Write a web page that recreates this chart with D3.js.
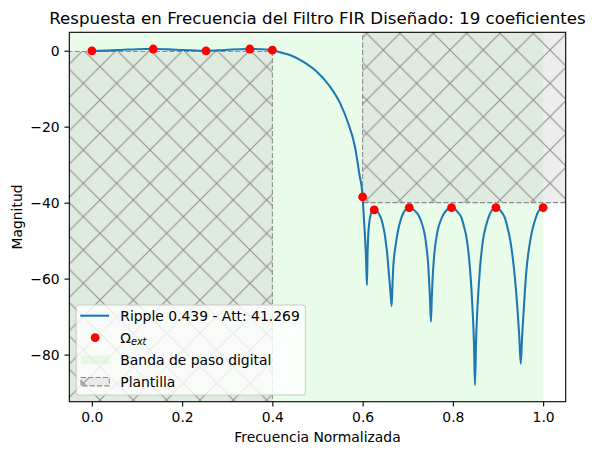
<!DOCTYPE html>
<html>
<head>
<meta charset="utf-8">
<script src="https://cdn.jsdelivr.net/npm/d3@7"></script>
<style>
  body { margin: 0; background: #fff; }
  svg { display: block; font-family: "DejaVu Sans", sans-serif; }
</style>
</head>
<body>
<svg id="chart" width="594" height="455"></svg>
<script>
// frequency response (normalized freq, dB)
const freq = [
  0.000, 0.030, 0.070, 0.100, 0.136, 0.170, 0.200, 0.230, 0.253, 0.280,
  0.310, 0.350, 0.375, 0.400, 0.417, 0.439, 0.468, 0.498, 0.528, 0.550,
  0.568, 0.583, 0.5925, 0.600, 0.6025, 0.6050, 0.6075, 0.6096,
  0.6110, 0.6125, 0.6145, 0.6170, 0.6210, 0.6257, 0.6310, 0.6360, 0.6410, 0.6457,
  0.6490, 0.6517, 0.6545, 0.6568, 0.6595, 0.6620, 0.6643,
  0.6665, 0.6679, 0.6705, 0.6738, 0.6770, 0.6805, 0.6850, 0.6900, 0.6965, 0.7033,
  0.7100, 0.7170, 0.7233, 0.7290, 0.7343, 0.7385, 0.7418, 0.7448, 0.7470, 0.7492, 0.7514,
  0.7533, 0.7551, 0.7575, 0.7602, 0.7637, 0.7676, 0.7730, 0.7786, 0.7845, 0.7900, 0.7970,
  0.8035, 0.8100, 0.8194, 0.8250, 0.8305, 0.8345, 0.8378, 0.8410, 0.8438, 0.8465, 0.8489,
  0.8515, 0.8540, 0.8570, 0.8600, 0.8635, 0.8673, 0.8725, 0.8784, 0.8840, 0.8895, 0.8954,
  0.9015, 0.9080, 0.9154, 0.9210, 0.9264, 0.9310, 0.9353, 0.9395, 0.9435, 0.9470, 0.9504,
  0.9535, 0.9568, 0.9600, 0.9634, 0.9675, 0.9723, 0.9775, 0.9834, 0.9885, 0.9945, 1.000
];
const magDb = [
  -0.05, 0.02, 0.25, 0.40, 0.44, 0.35, 0.18, 0.03, -0.05, 0.10,
  0.32, 0.44, 0.38, 0.15, -0.42, -1.13, -2.9, -5.5, -9.5, -13.8,
  -19.1, -25.3, -32.3, -38.5, -43.5, -48.5, -54.5, -61.7,
  -53.0, -48.5, -45.5, -43.6, -42.3, -41.9, -42.1, -42.9, -44.2, -46.3,
  -48.3, -50.7, -53.5, -56.8, -60.5, -64.0, -67.2,
  -60.5, -56.8, -53.5, -50.7, -48.3, -46.3, -44.3, -42.8, -41.7, -41.3,
  -41.6, -42.3, -43.2, -44.7, -46.7, -49.0, -52.0, -55.5, -59.9, -65.0, -71.3,
  -65.0, -59.9, -55.5, -52.0, -49.0, -46.7, -44.7, -43.2, -42.2, -41.6, -41.3,
  -41.6, -42.4, -44.1, -46.5, -49.4, -53.0, -57.3, -62.5, -68.7, -76.0, -88.0,
  -76.0, -68.7, -62.5, -57.3, -53.0, -49.4, -46.5, -44.1, -42.5, -41.6, -41.3,
  -41.6, -42.5, -44.1, -46.5, -49.4, -53.0, -57.3, -62.5, -68.7, -75.0, -82.4,
  -75.0, -68.7, -62.5, -57.3, -53.0, -49.4, -46.5, -44.1, -42.5, -41.6, -41.3
];

// extremal frequencies (red dots)
const extFreq = [0.0, 0.136, 0.253, 0.350, 0.400, 0.600, 0.6257, 0.7033, 0.797, 0.8954, 1.0];
const extMag = [-0.05, 0.44, -0.05, 0.44, 0.15, -38.5, -41.9, -41.3, -41.3, -41.3, -41.3];

// template (plantilla) and digital passband span
const passTplX = [-0.2, 0.4];
const passTplY = [-120, -0.2];
const stopTplX = [0.6, 1.3];
const stopTplY = [-40, 20];
const bandX = [-0.2, 1.0];

const xTicks = [0, 0.2, 0.4, 0.6, 0.8, 1.0];
const yTicks = [0, -20, -40, -60, -80];
const legendLabels = ["Ripple 0.439 - Att: 41.269", "Ω", "Banda de paso digital", "Plantilla"];

const W = 594, H = 455;
const margin = {top: 32.3, right: 28.3, bottom: 53.3, left: 69.3};
const iw = W - margin.left - margin.right;
const ih = H - margin.top - margin.bottom;

const svg = d3.select("#chart");
const x = d3.scaleLinear().domain([-0.05, 1.05]).range([0, iw]);
const y = d3.scaleLinear().domain([-92.4, 4.84]).range([ih, 0]);

const defs = svg.append("defs");
defs.append("clipPath").attr("id", "plotclip")
  .append("rect").attr("width", iw).attr("height", ih);

// hatch tiles aligned to the page, like matplotlib does
function hatch(id, ox, oy) {
  const p = defs.append("pattern")
    .attr("id", id)
    .attr("patternUnits", "userSpaceOnUse")
    .attr("x", ox).attr("y", oy)
    .attr("width", 33.33).attr("height", 33.33);
  p.append("path")
    .attr("d", "M-2,-2L35.33,35.33M-2,35.33L35.33,-2")
    .attr("stroke", "#808080").attr("stroke-opacity", 0.85)
    .attr("stroke-width", 1.1).attr("fill", "none");
}
hatch("hatchPlot", -margin.left, -margin.top);
hatch("hatchPage", 0, 0);

const g = svg.append("g").attr("transform", `translate(${margin.left},${margin.top})`);
const plot = g.append("g").attr("clip-path", "url(#plotclip)");

// digital passband
plot.append("rect")
  .attr("x", x(bandX[0])).attr("y", 0)
  .attr("width", x(bandX[1]) - x(bandX[0])).attr("height", ih)
  .attr("fill", "#90ee90").attr("fill-opacity", 0.2);

// templates
[[passTplX, passTplY], [stopTplX, stopTplY]].forEach(([tx, ty]) => {
  const r = {x: x(tx[0]), y: y(ty[1]), w: x(tx[1]) - x(tx[0]), h: y(ty[0]) - y(ty[1])};
  plot.append("rect").attr("x", r.x).attr("y", r.y).attr("width", r.w).attr("height", r.h)
    .attr("fill", "#d3d3d3").attr("fill-opacity", 0.4);
  plot.append("rect").attr("x", r.x).attr("y", r.y).attr("width", r.w).attr("height", r.h)
    .attr("fill", "url(#hatchPlot)")
    .attr("stroke", "#8c8c8c").attr("stroke-width", 1.1)
    .attr("stroke-dasharray", "5.1,2.2");
});

// response curve
const line = d3.line().x((d, i) => x(freq[i])).y(d => y(d)).curve(d3.curveMonotoneX);
plot.append("path")
  .datum(magDb)
  .attr("d", line)
  .attr("fill", "none")
  .attr("stroke", "#1f77b4")
  .attr("stroke-width", 2.08)
  .attr("stroke-linejoin", "round");

plot.selectAll("circle.ext")
  .data(extFreq)
  .join("circle")
  .attr("class", "ext")
  .attr("cx", d => x(d))
  .attr("cy", (d, i) => y(extMag[i]))
  .attr("r", 4.4)
  .attr("fill", "red");

// axes
const xAxis = g.append("g").attr("transform", `translate(0,${ih})`)
  .call(d3.axisBottom(x).tickValues(xTicks).tickFormat(d3.format(".1f")).tickSizeOuter(0).tickSize(4.86).tickPadding(4.4));
const yAxis = g.append("g")
  .call(d3.axisLeft(y).tickValues(yTicks).tickFormat(d => d < 0 ? "\u2212" + Math.abs(d) : d).tickSizeOuter(0).tickSize(4.86).tickPadding(4.86));
[xAxis, yAxis].forEach(a => {
  a.select(".domain").remove();
  a.selectAll("line").attr("stroke", "#000").attr("stroke-width", 1.1);
  a.selectAll("text").attr("fill", "#000").attr("font-size", 13.9)
    .attr("font-family", "DejaVu Sans");
});
xAxis.selectAll("text").attr("dy", "0.76em");
yAxis.selectAll("text").attr("dy", "0.36em");

g.append("rect")
  .attr("width", iw).attr("height", ih)
  .attr("fill", "none").attr("stroke", "#000").attr("stroke-width", 1.1);

// titles
svg.append("text")
  .attr("x", margin.left + iw / 2).attr("y", 24)
  .attr("text-anchor", "middle").attr("font-size", 16.67)
  .text("Respuesta en Frecuencia del Filtro FIR Diseñado: 19 coeficientes");
svg.append("text")
  .attr("x", margin.left + iw / 2).attr("y", 441.5)
  .attr("text-anchor", "middle").attr("font-size", 13.9)
  .text("Frecuencia Normalizada");
svg.append("text")
  .attr("transform", `translate(21.6,${margin.top + ih / 2}) rotate(-90)`)
  .attr("text-anchor", "middle").attr("font-size", 13.9)
  .text("Magnitud");

// legend
const lg = svg.append("g");
const box = lg.append("rect");
const rowY = [315.7, 337.7, 359.7, 381.7];
const hx0 = 81, hx1 = 109.3, tx = 120.3;

const texts = legendLabels.map((s, i) => {
  const t = lg.append("text").attr("x", tx).attr("y", rowY[i] + 5.1).attr("font-size", 13.9);
  if (i === 1) {
    t.append("tspan").text(s);
    t.append("tspan").attr("dy", 2.2).attr("font-size", 9.7).attr("font-style", "italic").text("ext");
  } else {
    t.text(s);
  }
  return t;
});
const maxLen = d3.max(texts, t => t.node().getComputedTextLength());
box.attr("x", 76.2).attr("y", 305)
  .attr("width", tx + maxLen + 5.6 - 76.2).attr("height", 90)
  .attr("rx", 2.8)
  .attr("fill", "#fff").attr("fill-opacity", 0.8)
  .attr("stroke", "#cccccc").attr("stroke-width", 1.1);

lg.append("line")
  .attr("x1", hx0 - 0.7).attr("x2", hx1 - 0.2).attr("y1", rowY[0]).attr("y2", rowY[0])
  .attr("stroke", "#1f77b4").attr("stroke-width", 2.08);
lg.append("circle")
  .attr("cx", (hx0 + hx1) / 2).attr("cy", rowY[1]).attr("r", 4.4).attr("fill", "red");
lg.append("rect")
  .attr("x", hx0).attr("y", rowY[2] - 4.15).attr("width", hx1 - hx0).attr("height", 8.3)
  .attr("fill", "#90ee90").attr("fill-opacity", 0.2);
lg.append("rect")
  .attr("x", hx0).attr("y", rowY[3] - 4.15).attr("width", hx1 - hx0).attr("height", 8.3)
  .attr("fill", "#d3d3d3").attr("fill-opacity", 0.4);
lg.append("rect")
  .attr("x", hx0).attr("y", rowY[3] - 4.15).attr("width", hx1 - hx0).attr("height", 8.3)
  .attr("fill", "url(#hatchPage)")
  .attr("stroke", "#8c8c8c").attr("stroke-width", 1.1)
  .attr("stroke-dasharray", "5.1,2.2");
</script>
</body>
</html>
